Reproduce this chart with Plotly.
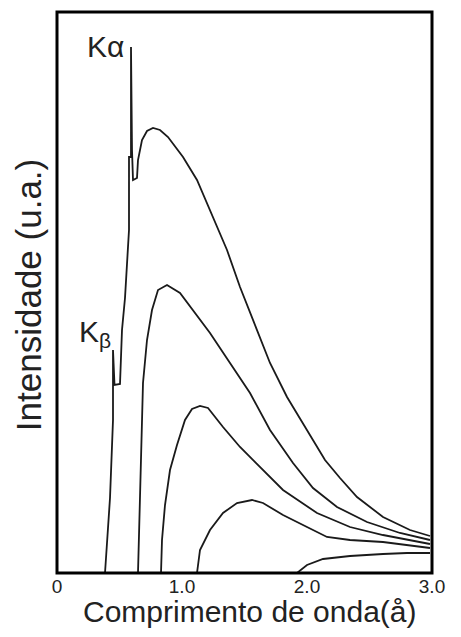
import plotly.graph_objects as go

# Wavelength (Å) and intensity (arbitrary units)
c1_x = [0.384, 0.424, 0.448, 0.448, 0.46, 0.504, 0.52, 0.544, 0.576, 0.576, 0.592, 0.592, 0.60, 0.608,
        0.64, 0.648, 0.68, 0.72, 0.768, 0.824, 0.888, 1.008, 1.12, 1.224, 1.36, 1.464, 1.568, 1.704,
        1.84, 2.0, 2.144, 2.264, 2.4, 2.608, 2.824, 2.984]
c1_y = [0, 75, 153, 223, 188, 189, 243, 275, 343, 416, 416, 526, 423, 393,
        395, 413, 433, 442, 445, 443, 436, 416, 393, 363, 323, 286, 253, 210,
        176, 143, 113, 95, 76, 56, 43, 37]

c2_x = [0.648, 0.664, 0.68, 0.688, 0.72, 0.76, 0.808, 0.88, 0.984, 1.088, 1.224, 1.384, 1.544, 1.704,
        1.888, 2.048, 2.24, 2.48, 2.744, 2.984]
c2_y = [0, 76, 136, 190, 233, 263, 283, 288, 280, 263, 240, 210, 180, 143,
        110, 85, 66, 51, 40, 33]

c3_x = [0.832, 0.84, 0.864, 0.904, 0.96, 1.024, 1.08, 1.144, 1.208, 1.328, 1.464, 1.544, 1.808, 2.08,
        2.344, 2.608, 2.984]
c3_y = [0, 33, 68, 103, 128, 153, 164, 167, 165, 146, 126, 116, 83, 60, 46, 38, 29]

c4_x = [1.12, 1.144, 1.224, 1.328, 1.44, 1.56, 1.648, 1.808, 2.0, 2.16, 2.344, 2.608, 2.984]
c4_y = [0, 23, 43, 60, 70, 73, 70, 58, 46, 36, 33, 31, 25]

c5_x = [1.92, 2.0, 2.128, 2.344, 2.608, 2.8, 2.984]
c5_y = [0, 8, 14, 17, 19, 20, 20]

tick_vals = [0, 1, 2, 3]
tick_text = ["0", "1.0", "2.0", "3.0"]

FONT = "Arial, Liberation Sans, sans-serif"
LINE = dict(color="#1a1a1a", width=1.8)

fig = go.Figure()
for xs, ys in [(c1_x, c1_y), (c2_x, c2_y), (c3_x, c3_y), (c4_x, c4_y), (c5_x, c5_y)]:
    fig.add_trace(go.Scatter(x=xs, y=ys, mode="lines", line=LINE, showlegend=False,
                             hoverinfo="skip"))

fig.update_layout(
    width=445, height=621,
    margin=dict(l=49, r=21, t=4, b=56),
    paper_bgcolor="white", plot_bgcolor="white",
    font=dict(family=FONT, color="#222"),
    xaxis=dict(range=[0, 3.0], showgrid=False, zeroline=False, showline=False,
               tickmode="array", tickvals=tick_vals, ticktext=tick_text,
               ticks="", tickfont=dict(size=19, color="#222"), ticklabelstandoff=0),
    yaxis=dict(range=[0, 561], showgrid=False, zeroline=False, showline=False,
               showticklabels=False, ticks=""),
    shapes=[dict(type="rect", xref="paper", yref="paper", x0=0, x1=1, y0=0, y1=1,
                 line=dict(color="black", width=3), layer="above")],
    annotations=[
        dict(text="Comprimento de onda(å)", xref="paper", yref="paper", x=0.515, y=-0.0995,
             xanchor="center", yanchor="bottom", showarrow=False, borderpad=0,
             font=dict(size=30, color="#222", family=FONT)),
        dict(text="Intensidade (u.a.)", xref="paper", yref="paper", x=-0.077, y=0.4955,
             xanchor="center", yanchor="middle", showarrow=False, textangle=-90,
             font=dict(size=35, color="#222", family=FONT)),
        dict(text="Kα", x=0.39, y=527, xref="x", yref="y", showarrow=False,
             xanchor="center", yanchor="middle", font=dict(size=30, color="#222", family=FONT)),
        dict(text="K<sub>β</sub>", x=0.30, y=240, xref="x", yref="y", showarrow=False,
             xanchor="center", yanchor="middle", font=dict(size=30, color="#222", family=FONT)),
    ],
)

fig.write_html("out.html")
